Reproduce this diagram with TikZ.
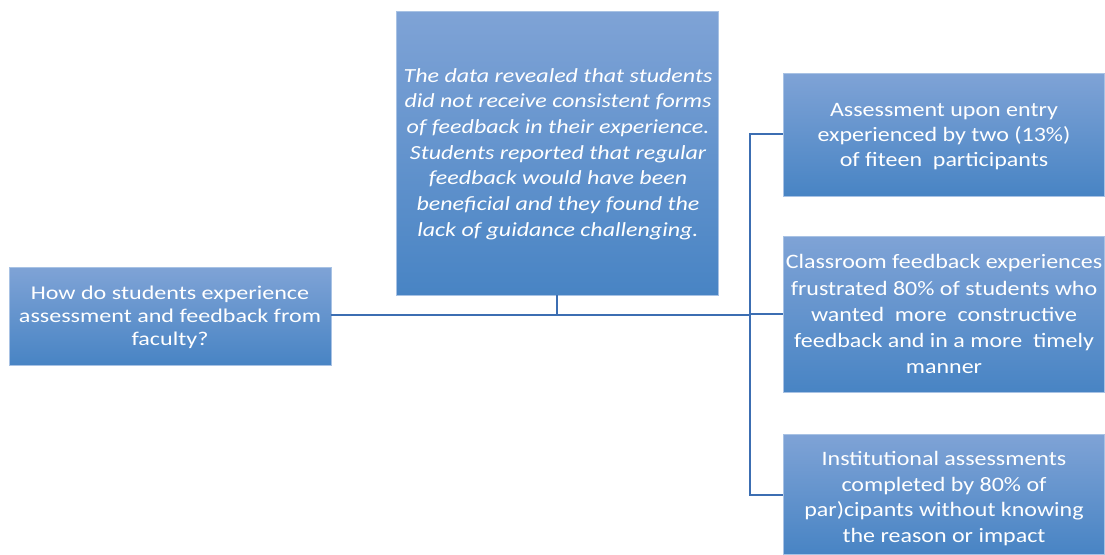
\documentclass[tikz,border=0pt]{standalone}
\usepackage{fontspec}
\usepackage{graphicx}
\setmainfont{Carlito}
\newcommand{\hstretch}[2]{\scalebox{#1}[1]{\begin{tabular}{@{}c@{}}#2\end{tabular}}}
\begin{document}
\begin{tikzpicture}[x=1pt,y=-1pt,
  boxfill/.style={top color=boxtop,bottom color=boxbot,draw=boxedge,line width=0.8pt},
  txt/.style={text=white,align=center,inner sep=0pt},
  conn/.style={draw=linecol,line width=1.1pt}]
\definecolor{boxtop}{HTML}{7FA3D6}
\definecolor{boxbot}{HTML}{4884C4}
\definecolor{boxedge}{HTML}{A8C2E4}
\definecolor{linecol}{HTML}{3C6EB2}
\useasboundingbox (0,0) rectangle (1105,554);
% boxes
\path[boxfill] (9,267) rectangle (331,365);
\path[boxfill] (396,11) rectangle (718,295);
\path[boxfill] (783,73) rectangle (1104.5,196);
\path[boxfill] (783,236) rectangle (1104.5,392);
\path[boxfill] (783,434) rectangle (1104.5,554);
\coordinate (q) at (331,315);
\coordinate (m) at (557,295);
\coordinate (a) at (783,134);
\coordinate (b) at (783,314);
\coordinate (c) at (783,495);
\node[txt,font=\fontsize{19.5}{23}\selectfont] (qt) at (170,318) {\hstretch{1.235}{How do students experience\\assessment and feedback from\\faculty?}};
\node[txt,font=\fontsize{20}{25.7}\selectfont\itshape] (mt) at (558,154) {\hstretch{1.2}{The data revealed that students\\did not receive consistent forms\\of feedback in their experience.\\Students reported that regular\\feedback would have been\\beneficial and they found the\\lack of guidance challenging.}};
\node[txt,font=\fontsize{20.5}{25}\selectfont] (at) at (944,136) {\hstretch{1.17}{Assessment upon entry\\experienced by two (13\%)\\of fiteen\ \ participants}};
\node[txt,font=\fontsize{20.5}{26.2}\selectfont] (bt) at (944,316) {\hstretch{1.17}{Classroom feedback experiences\\frustrated 80\% of students who\\wanted\ \ more\ \ constructive\\feedback and in a more\ \ timely\\manner}};
\node[txt,font=\fontsize{20.5}{25.7}\selectfont] (ct) at (944,499) {\hstretch{1.17}{Institutional assessments\\completed by 80\% of\\par)cipants without knowing\\the reason or impact}};
\coordinate (j) at (750,315);
\draw[conn] (q) -- (j);
\draw[conn] (m) -- (557,315);
\draw[conn] (a) -- (750,134) -- (750,495) -- (c);
\draw[conn] (750,314) -- (b);
\end{tikzpicture}
\end{document}
